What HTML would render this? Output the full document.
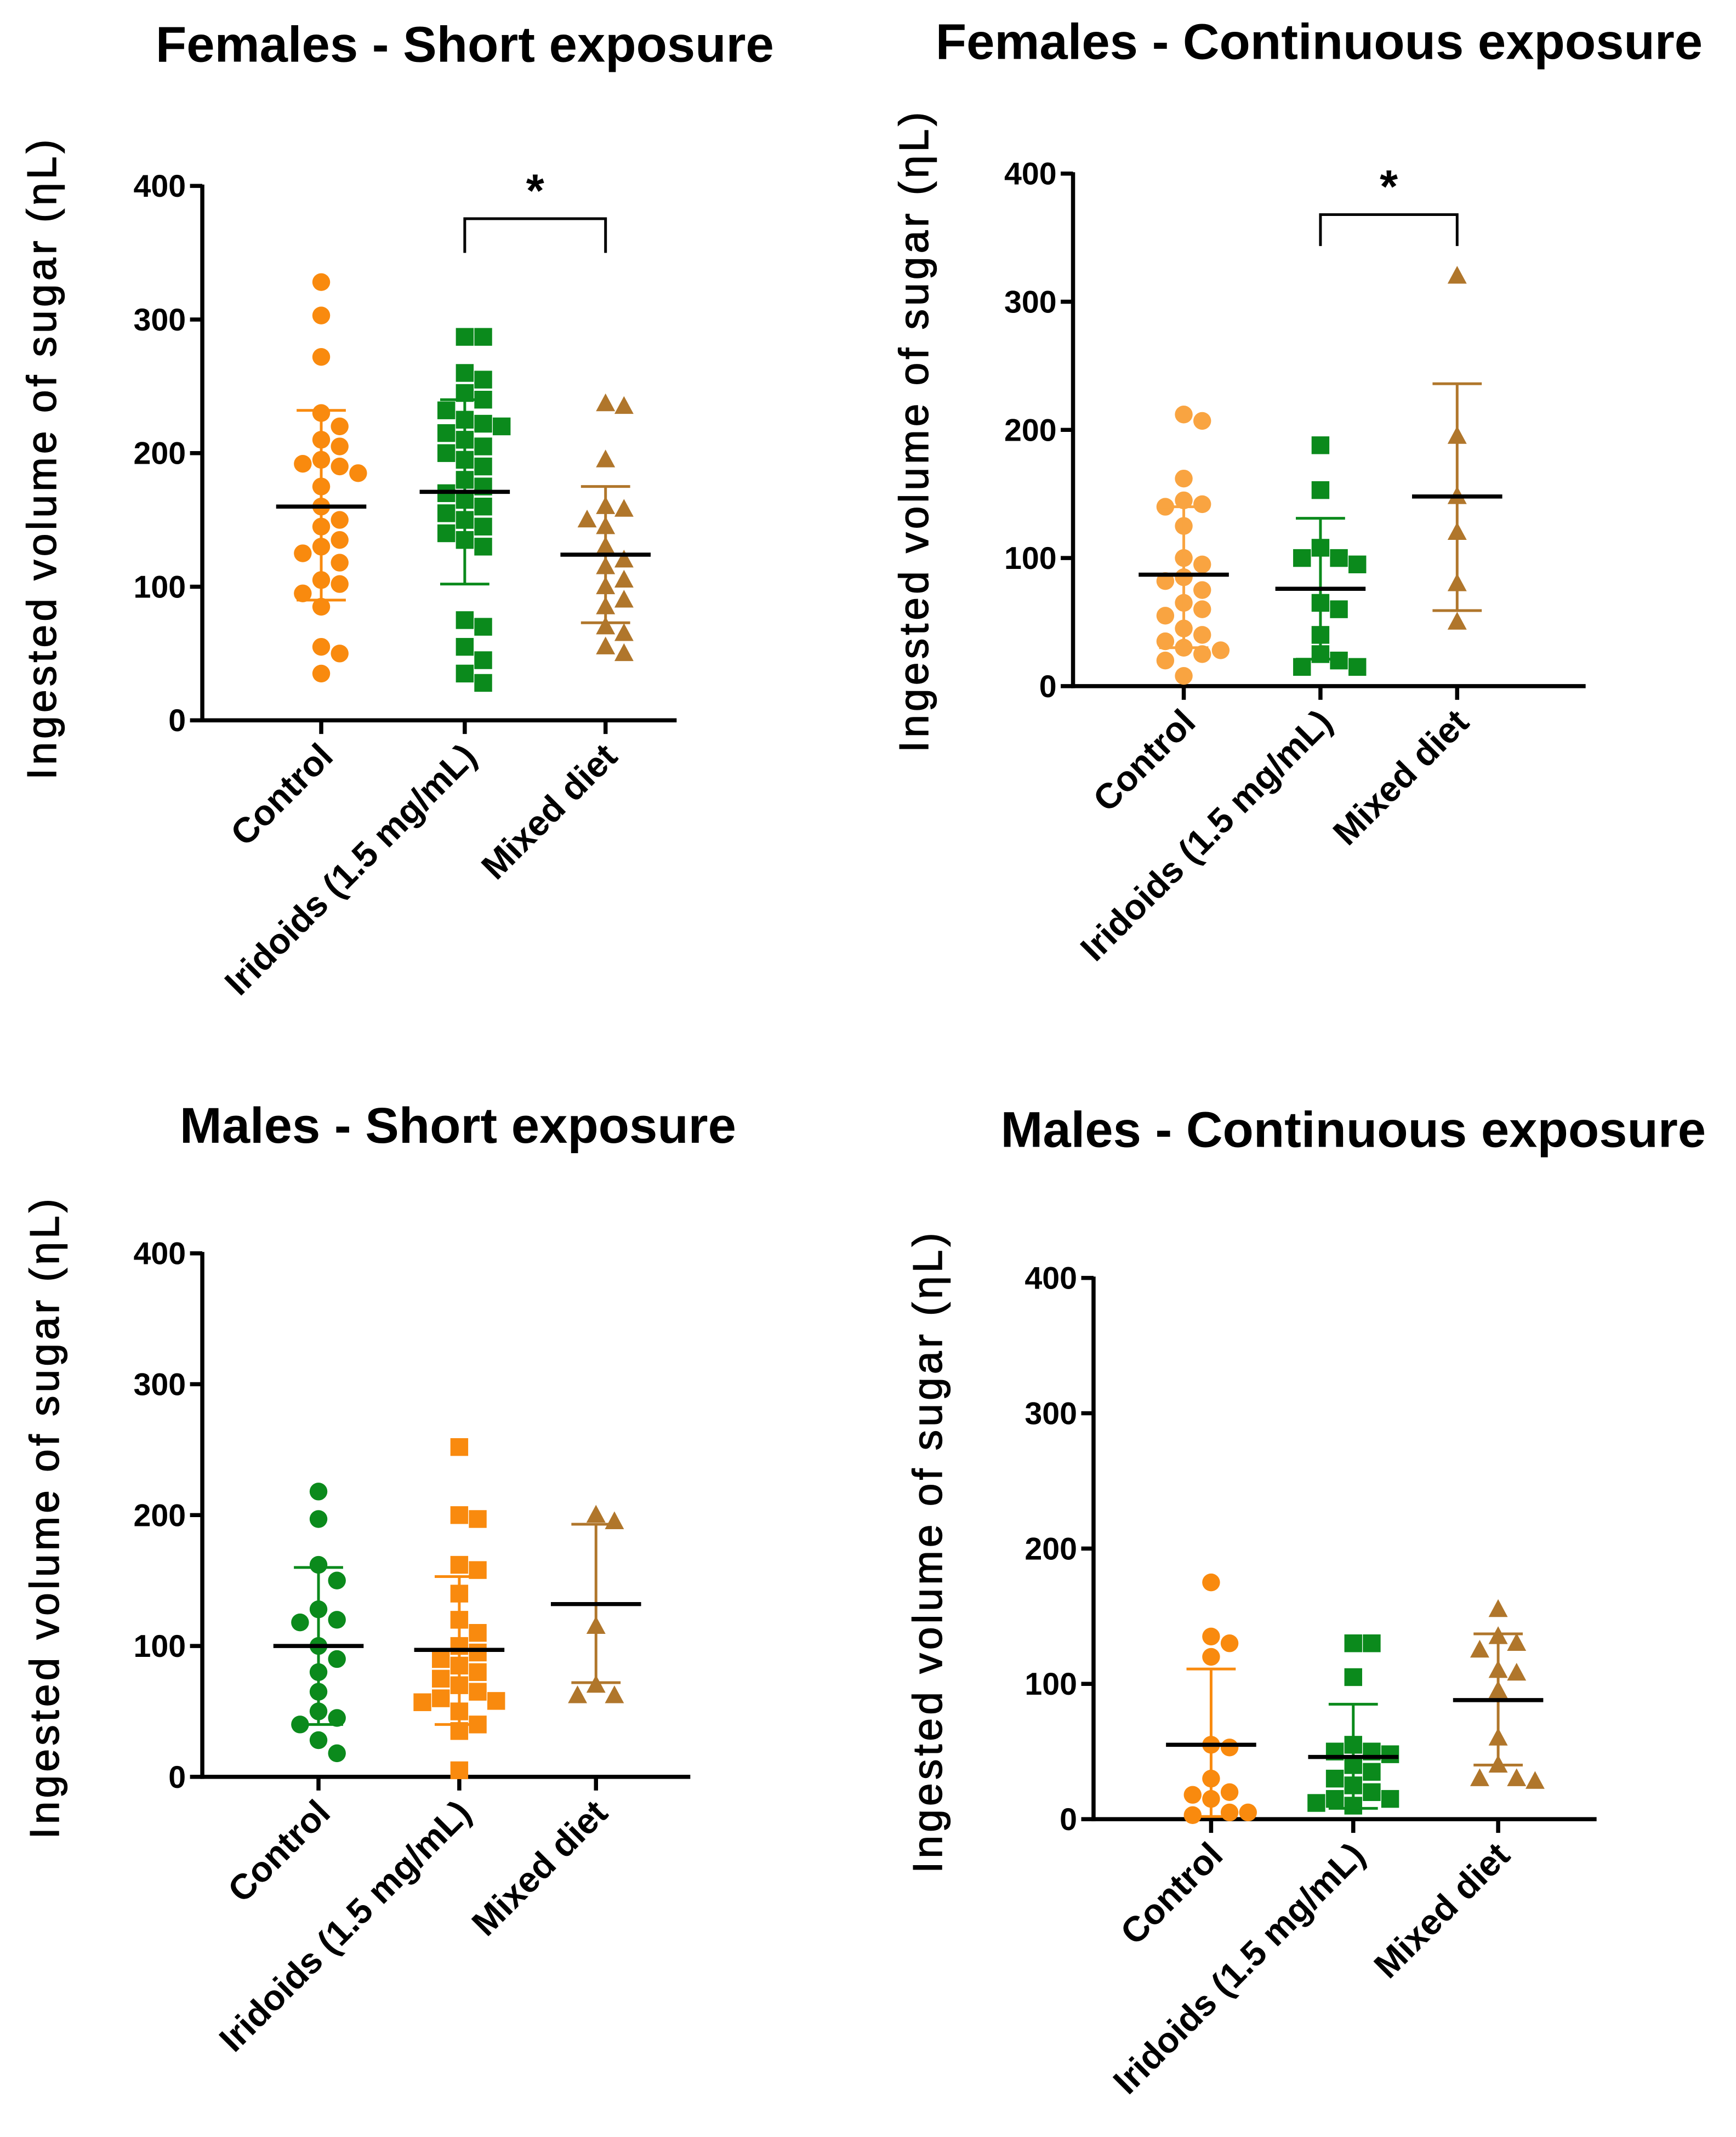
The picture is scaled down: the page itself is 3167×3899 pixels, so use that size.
<!DOCTYPE html>
<html><head><meta charset="utf-8"><style>
html,body{margin:0;padding:0;background:#fff}
svg{display:block}
text{font-family:"Liberation Sans",Arial,sans-serif;font-weight:bold}
</style></head><body>
<svg id="chart" width="3167" height="3899" viewBox="0 0 1270 1563.5" xmlns="http://www.w3.org/2000/svg"></svg>
<script>
// ---- data ----
const categories = ["Control", "Iridoids (1.5 mg/mL)", "Mixed diet"];
const yTicks = [0, 100, 200, 300, 400];
const titles = ["Females - Short exposure", "Females - Continuous exposure", "Males - Short exposure", "Males - Continuous exposure"];
const p1Control = [328,303,272,230,220,210,205,195,192,190,185,175,160,150,145,135,130,125,118,105,102,95,85,55,50,35];
const p1Iridoids = [287,287,260,255,245,240,232,225,222,220,215,210,205,200,195,190,180,175,170,165,160,155,150,145,140,135,130,75,70,55,45,35,28];
const p1Mixed = [237,235,195,160,158,150,145,130,120,115,105,100,90,85,70,65,55,50];
const p1Mean = [160,171,124];
const p1SD = [[90,232],[102,240],[73,175]];
const p2Control = [212,207,162,145,142,140,125,100,95,85,82,75,65,60,55,45,40,35,30,28,25,20,8];
const p2Iridoids = [188,153,108,100,100,95,65,60,40,25,20,15,15];
const p2Mixed = [320,195,148,120,80,50];
const p2Mean = [87,76,148];
const p2SD = [[30,140],[21,131],[59,236]];
const p3Control = [218,197,162,150,128,120,118,100,90,80,65,50,45,40,28,18];
const p3Iridoids = [252,200,197,162,158,140,120,110,100,95,90,85,80,75,70,65,60,58,57,50,40,35,5];
const p3Mixed = [200,195,115,70,62,62];
const p3Mean = [100,97,132];
const p3SD = [[40,160],[40,153],[72,193]];
const p4Control = [175,135,130,120,55,53,30,20,18,15,5,5,3];
const p4Iridoids = [130,130,105,55,50,50,48,40,35,30,25,20,15,15,12,10];
const p4Mixed = [155,135,130,125,110,108,95,60,40,30,30,28];
const p4Mean = [55,46,88];
const p4SD = [[2,111],[8,85],[40,137]];

const OR='#f98a0e', LOR='#f9a441', GR='#0b8a1c', BR='#b0762b';
const panels = [
 {t:0,ax:148,y0:527,y4:136,xe:495,cx:[235,340,443],tx:340,ty:32,yt:[30,335],data:[p1Control,p1Iridoids,p1Mixed],mean:p1Mean,sd:p1SD,col:[OR,GR,BR],sh:['c','s','t'],sig:[1,2,160,185,135]},
 {t:1,ax:785,y0:502,y4:127,xe:1160,cx:[866,966,1066],tx:965,ty:30,yt:[668,315],data:[p2Control,p2Iridoids,p2Mixed],mean:p2Mean,sd:p2SD,col:[LOR,GR,BR],sh:['c','s','t'],sig:[1,2,157,180,132]},
 {t:2,ax:148,y0:1300,y4:917,xe:505,cx:[233,336,436],tx:335,ty:823,yt:[32,1110],data:[p3Control,p3Iridoids,p3Mixed],mean:p3Mean,sd:p3SD,col:[GR,OR,BR],sh:['c','s','t'],sig:null},
 {t:3,ax:800,y0:1331,y4:935,xe:1168,cx:[886,990,1096],tx:990,ty:826,yt:[678,1135],data:[p4Control,p4Iridoids,p4Mixed],mean:p4Mean,sd:p4SD,col:[OR,GR,BR],sh:['c','s','t'],sig:null}
];
const NS='http://www.w3.org/2000/svg';
const svg=document.getElementById('chart');
function mk(tag,attrs,parent){const e=document.createElementNS(NS,tag);for(const k in attrs)e.setAttribute(k,attrs[k]);(parent||svg).appendChild(e);return e;}

panels.forEach((p,pi)=>{
  const g=mk('g',{});
  
  
  const y=v=>p.y0-(v/400)*(p.y0-p.y4);
  const ti=mk('text',{x:p.tx,y:p.ty+13,'text-anchor':'middle','font-size':37},g);
  ti.textContent=titles[p.t];
  
  
  const yt=mk('text',{x:0,y:0,'text-anchor':'middle','font-size':30,transform:`translate(${p.yt[0]+11},${p.yt[1]}) rotate(-90)`,style:'font-weight:normal;letter-spacing:2.5px;stroke:#000;stroke-width:0.6'},g);
  yt.textContent='Ingested volume of sugar (ηL)';
  
  
  const axl=mk('line',{x1:p.ax,y1:y(400)-1,x2:p.ax,y2:p.y0+1.5,stroke:'#000','stroke-width':3},g);
  
  
  const axx=mk('line',{x1:p.ax-1.5,y1:p.y0,x2:p.xe,y2:p.y0,stroke:'#000','stroke-width':3},g);
  
  
  yTicks.forEach(v=>{
    const tl=mk('line',{x1:p.ax-9,y1:y(v),x2:p.ax,y2:y(v),stroke:'#000','stroke-width':3},g);
    
    
    const tt=mk('text',{x:p.ax-12,y:y(v)+8,'text-anchor':'end','font-size':23},g);
    tt.textContent=v;
    
    
  });
  categories.forEach((c,i)=>{
    const tl=mk('line',{x1:p.cx[i],y1:p.y0,x2:p.cx[i],y2:p.y0+10,stroke:'#000','stroke-width':3},g);
    
    
    const tt=mk('text',{x:0,y:0,'text-anchor':'end','font-size':26,transform:`translate(${p.cx[i]+10},${p.y0+28}) rotate(-45)`},g);
    tt.textContent=c;
    
    
  });
  p.data.forEach((vals,i)=>{
    const col=p.col[i], cx=p.cx[i], r=6.5, d=13.5;
    const placed=[];
    vals.forEach(v=>{
      const py=y(v);
      let off=0;
      for(let k=0;k<40;k++){
        const o=(k%2?1:-1)*Math.ceil(k/2)*d;
        if(placed.every(q=>Math.hypot(q[0]-o,q[1]-py)>=d-0.5)){off=o;break;}
      }
      placed.push([off,py]);
      const px=cx+off;
      let m;
      if(p.sh[i]==='c') m=mk('circle',{cx:px,cy:py,r:r,fill:col},g);
      else if(p.sh[i]==='s') m=mk('rect',{x:px-r,y:py-r,width:2*r,height:2*r,fill:col},g);
      else m=mk('polygon',{points:`${px},${py-7.5} ${px+7},${py+5.5} ${px-7},${py+5.5}`,fill:col},g);
      
      
    });
    const [lo,hi]=p.sd[i];
    const sd=mk('path',{d:`M${cx},${y(lo)}V${y(hi)}M${cx-18},${y(lo)}H${cx+18}M${cx-18},${y(hi)}H${cx+18}`,stroke:col,'stroke-width':2,fill:'none'},g);
    
    
    const mn=mk('line',{x1:cx-33,y1:y(p.mean[i]),x2:cx+33,y2:y(p.mean[i]),stroke:'#000','stroke-width':3},g);
    
    
  });
  if(p.sig){
    const [a,b,top,bot,sy]=p.sig;
    const br=mk('path',{d:`M${p.cx[a]},${bot}V${top}H${p.cx[b]}V${bot}`,stroke:'#000','stroke-width':2,fill:'none'},g);
    
    
    const st=mk('text',{x:(p.cx[a]+p.cx[b])/2,y:sy+16,'text-anchor':'middle','font-size':34},g);
    st.textContent='*';
    
    
  }
});
</script>
</body></html>
